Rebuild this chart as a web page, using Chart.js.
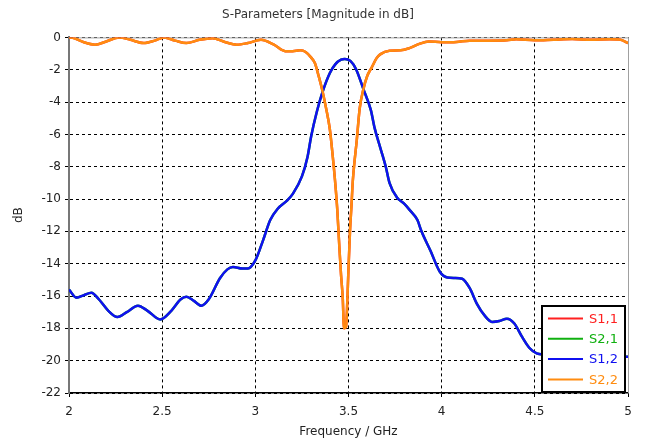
<!DOCTYPE html>
<html>
<head>
<meta charset="utf-8">
<script src="https://cdn.jsdelivr.net/npm/chart.js@4/dist/chart.umd.min.js"></script>
<style>
  html, body { margin: 0; padding: 0; background: #fff; }
  #wrap { width: 659px; height: 443px; }
</style>
</head>
<body>
<div id="wrap"><canvas id="chart"></canvas></div>
<script>
// S1,2 (blue)
const s12Freq = [2.00, 2.04, 2.08, 2.12, 2.16, 2.21, 2.26, 2.31, 2.37, 2.42, 2.49, 2.55, 2.60, 2.63, 2.67, 2.71, 2.75, 2.81, 2.85, 2.88, 2.93, 2.96, 3.00, 3.04, 3.08, 3.12, 3.17, 3.20, 3.25, 3.28, 3.30, 3.33, 3.36, 3.40, 3.43, 3.46, 3.48, 3.51, 3.54, 3.58, 3.62, 3.64, 3.67, 3.70, 3.72, 3.76, 3.80, 3.83, 3.87, 3.89, 3.94, 3.99, 4.03, 4.07, 4.11, 4.15, 4.19, 4.23, 4.27, 4.31, 4.35, 4.39, 4.43, 4.47, 4.51, 4.55, 4.65, 4.80, 4.92, 5.00];
const s12dB = [-15.6, -16.1, -15.95, -15.8, -16.2, -16.9, -17.3, -17.0, -16.6, -16.9, -17.45, -16.9, -16.2, -16.05, -16.3, -16.6, -16.2, -14.9, -14.35, -14.2, -14.3, -14.3, -13.8, -12.6, -11.3, -10.6, -10.1, -9.7, -8.6, -7.4, -6.1, -4.6, -3.4, -2.2, -1.65, -1.38, -1.33, -1.45, -1.95, -3.2, -4.5, -5.6, -6.8, -8.0, -9.0, -9.9, -10.3, -10.7, -11.3, -11.95, -13.2, -14.5, -14.85, -14.88, -14.93, -15.5, -16.5, -17.2, -17.6, -17.55, -17.4, -17.7, -18.5, -19.2, -19.55, -19.62, -19.65, -19.7, -19.75, -19.75];

// S2,2 (orange)
const s22Freq = [2.00, 2.02, 2.08, 2.14, 2.20, 2.27, 2.33, 2.40, 2.46, 2.51, 2.57, 2.63, 2.70, 2.77, 2.84, 2.90, 2.96, 3.03, 3.10, 3.16, 3.20, 3.24, 3.27, 3.30, 3.32, 3.34, 3.36, 3.38, 3.40, 3.415, 3.428, 3.44, 3.451, 3.46, 3.469, 3.476, 3.487, 3.494, 3.499, 3.508, 3.516, 3.523, 3.533, 3.544, 3.56, 3.58, 3.60, 3.625, 3.65, 3.67, 3.72, 3.78, 3.83, 3.88, 3.93, 4.00, 4.08, 4.15, 4.25, 4.35, 4.40, 4.50, 4.60, 4.70, 4.80, 4.90, 4.96, 5.00];
const s22dB = [0.0, -0.02, -0.3, -0.45, -0.25, 0.0, -0.15, -0.35, -0.2, 0.0, -0.2, -0.35, -0.15, -0.05, -0.3, -0.45, -0.35, -0.15, -0.45, -0.85, -0.85, -0.8, -0.9, -1.25, -1.6, -2.4, -3.3, -4.4, -5.7, -7.3, -8.9, -10.7, -13.0, -14.7, -16.1, -18.0, -17.9, -16.2, -14.6, -12.0, -10.4, -8.9, -7.6, -6.4, -4.4, -3.2, -2.4, -1.85, -1.3, -1.05, -0.82, -0.8, -0.65, -0.4, -0.25, -0.3, -0.28, -0.2, -0.2, -0.18, -0.12, -0.18, -0.14, -0.1, -0.15, -0.12, -0.15, -0.35];

// S1,1 and S2,1 lie underneath S2,2 and S1,2
const s11Freq = s22Freq, s11dB = s22dB;
const s21Freq = s12Freq, s21dB = s12dB;

const seriesLabels = ['S1,1', 'S2,1', 'S1,2', 'S2,2'];
const seriesColors = ['#ff2020', '#10b010', '#1010f0', '#ff8c10'];
const xTicks = [2, 2.5, 3, 3.5, 4, 4.5, 5];
const yTicks = [0, -2, -4, -6, -8, -10, -12, -14, -16, -18, -20, -22];

const toPts = (fs, vs) => fs.map((f, i) => ({ x: f, y: vs[i] }));
const allFreq = [s11Freq, s21Freq, s12Freq, s22Freq];
const allDB = [s11dB, s21dB, s12dB, s22dB];

const FONT = 'Tahoma, "DejaVu Sans", Verdana, sans-serif';

const frameAndLegend = {
    id: 'frameAndLegend',
    beforeDatasetsDraw(chart) {
        const { ctx, chartArea: a } = chart;
        ctx.save();
        ctx.strokeStyle = '#a0a0a0';
        ctx.lineWidth = 1;
        ctx.beginPath();
        ctx.moveTo(a.left, a.top + 0.5);
        ctx.lineTo(a.right + 0.5, a.top + 0.5);
        ctx.lineTo(a.right + 0.5, a.bottom);
        ctx.stroke();
        ctx.restore();
    },
    afterDraw(chart) {
        const { ctx } = chart;
        const x0 = 542, y0 = 306, w = 83, h = 86;
        ctx.save();
        ctx.fillStyle = '#fff';
        ctx.fillRect(x0, y0, w, h);
        ctx.strokeStyle = '#000';
        ctx.lineWidth = 2;
        ctx.strokeRect(x0, y0, w, h);
        ctx.font = '13px ' + FONT;
        ctx.textBaseline = 'middle';
        chart.data.datasets.forEach((ds, i) => {
            const y = y0 + 12.5 + i * 20.3;
            ctx.strokeStyle = ds.borderColor;
            ctx.lineWidth = 2;
            ctx.beginPath();
            ctx.moveTo(548, y);
            ctx.lineTo(583, y);
            ctx.stroke();
            ctx.fillStyle = ds.borderColor;
            ctx.fillText(ds.label, 589, y + 1);
        });
        ctx.restore();
    }
};

new Chart(document.getElementById('chart'), {
    type: 'scatter',
    data: {
        datasets: seriesLabels.map((label, i) => ({
            label,
            data: toPts(allFreq[i], allDB[i]),
            showLine: true,
            borderColor: seriesColors[i],
            backgroundColor: seriesColors[i],
            borderWidth: 2.5,
            pointRadius: 0,
            cubicInterpolationMode: 'monotone',
            order: seriesLabels.length - i
        }))
    },
    options: {
        responsive: true,
        maintainAspectRatio: false,
        animation: false,
        layout: { padding: { left: 8, right: 31, top: 0, bottom: 0 } },
        plugins: {
            legend: { display: false },
            tooltip: { enabled: false },
            title: {
                display: true,
                text: 'S-Parameters [Magnitude in dB]',
                color: '#333',
                font: { family: FONT, size: 12, weight: 'normal' },
                padding: { top: 8, bottom: 15 }
            }
        },
        scales: {
            x: {
                type: 'linear',
                min: 2,
                max: 5,
                afterBuildTicks: s => { s.ticks = xTicks.map(v => ({ value: v })); },
                afterFit: s => { s.height = 50; },
                ticks: {
                    color: '#222',
                    font: { family: FONT, size: 12 },
                    padding: 8,
                    maxRotation: 0,
                    callback: v => String(v)
                },
                grid: {
                    color: '#000',
                    lineWidth: 1,
                    tickLength: 4,
                    tickColor: '#000',
                    tickBorderDash: []
                },
                border: { color: '#000', width: 1.5, dash: [3, 3] },
                title: {
                    display: true,
                    text: 'Frequency / GHz',
                    color: '#222',
                    font: { family: FONT, size: 12 },
                    padding: { top: 2 }
                }
            },
            y: {
                min: -22,
                max: 0,
                afterBuildTicks: s => { s.ticks = yTicks.map(v => ({ value: v })); },
                afterFit: s => { s.width = 61; },
                ticks: {
                    color: '#222',
                    font: { family: FONT, size: 12 },
                    padding: 4
                },
                grid: {
                    color: '#000',
                    lineWidth: 1,
                    tickLength: 4,
                    tickColor: '#000',
                    tickBorderDash: []
                },
                border: { color: '#777', width: 2, dash: [3, 3] },
                title: {
                    display: true,
                    text: 'dB',
                    color: '#222',
                    font: { family: FONT, size: 12 },
                    padding: { bottom: 2 }
                }
            }
        }
    },
    plugins: [frameAndLegend]
});
</script>
</body>
</html>
